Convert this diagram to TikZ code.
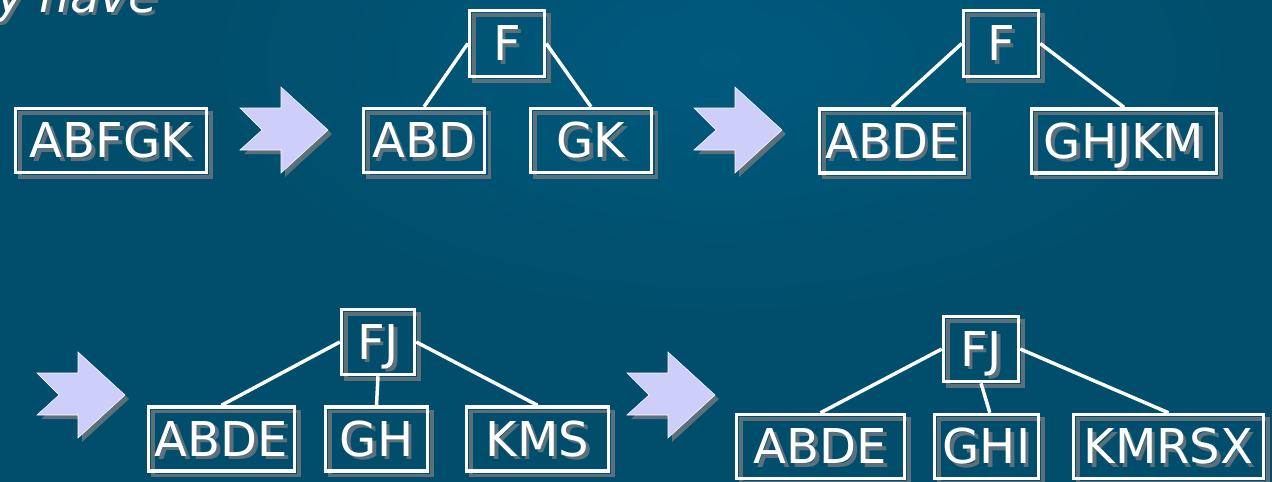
\documentclass[tikz,border=0pt]{standalone}
\usepackage{fontspec}
\setmainfont{DejaVu Sans}[ItalicFont={DejaVu Sans Oblique}]
\usetikzlibrary{shadows}

\definecolor{bgcol}{RGB}{0,78,108}
\definecolor{bglight}{RGB}{0,90,125}
\definecolor{shadowgray}{RGB}{92,112,124}
\definecolor{arrowfill}{RGB}{206,206,250}

% text with a grey drop shadow
\newcommand{\shd}[1]{\rlap{\kern2.5pt\raisebox{-2.5pt}{\textcolor{shadowgray}{#1}}}#1}

\tikzset{
  pics/fatarrow/.style={code={
    \fill[shadowgray, shift={(4,4)}] (-88,-22) -- (-47,-22) -- (-47,-43) -- (0,0) -- (-47,43) -- (-47,20) -- (-88,20) -- (-66,0) -- cycle;
    \filldraw[fill=arrowfill, draw=white, line width=0.4pt] (-88,-22) -- (-47,-22) -- (-47,-43) -- (0,0) -- (-47,43) -- (-47,20) -- (-88,20) -- (-66,0) -- cycle;
  }}
}

\begin{document}
\begin{tikzpicture}[x=0.75pt, y=-0.75pt,
  box/.style={draw=white, line width=2.6pt, inner sep=0pt, text=white,
    font=\fontsize{36}{40}\selectfont, text height=26.2pt, text depth=0pt, minimum height=48pt,
    drop shadow={shadow xshift=3.5pt, shadow yshift=-3.5pt, fill=none, draw=shadowgray, line width=2.6pt, opacity=1}},
  link/.style={draw=white, line width=2.6pt}]
  \useasboundingbox (0,0) rectangle (1272,482);
  \fill[bgcol] (0,0) rectangle (1272,482);
  \shade[inner color=bglight, outer color=bgcol] (720,60) ellipse (520 and 260);

  \node[anchor=base west, inner sep=0pt, text=white, font=\fontsize{36}{40}\selectfont\itshape] (caption) at (-4,12.5) {\shd{y have}};

  % first split
  \node[box, minimum width=143.25pt] (abfgk) at (111,140.5) {\shd{ABFGK}};
  \pic at (328,130) {fatarrow};
  \node[box, minimum width=56.25pt, minimum height=49.5pt] (f1) at (507,43.5) {\shd{F}};
  \node[box, minimum width=91pt] (abd) at (424,140.5) {\shd{ABD}};
  \node[box, minimum width=91pt] (gk) at (591,140.5) {\shd{GK}};
  \draw[link] (f1.west) -- (abd.north);
  \draw[link] (f1.east) -- (gk.north);

  \pic at (782,130) {fatarrow};
  \node[box, minimum width=56.25pt, minimum height=49.5pt] (f2) at (1001,43.5) {\shd{F}};
  \node[box, minimum width=108.75pt] (abde2) at (892,141) {\shd{ABDE}};
  \node[box, minimum width=138.75pt] (ghjkm) at (1124,141) {\shd{GHJKM}};
  \draw[link] (f2.west) -- (abde2.north);
  \draw[link] (f2.east) -- (ghjkm.north);

  % second split
  \pic at (125,395) {fatarrow};
  \node[box, minimum width=54.75pt, minimum height=48.75pt] (fj1) at (378,342) {\shd{FJ}};
  \node[box, minimum width=109.5pt] (abde3) at (221.5,439) {\shd{ABDE}};
  \node[box, minimum width=76.5pt] (gh) at (376.5,439) {\shd{GH}};
  \node[box, minimum width=106.5pt] (kms) at (537.5,439) {\shd{KMS}};
  \draw[link] (fj1.west) -- (abde3.north);
  \draw[link] (fj1.south) -- (gh.north);
  \draw[link] (fj1.east) -- (kms.north);

  \pic at (715,395) {fatarrow};
  \node[box, minimum width=56.25pt, minimum height=48.75pt] (fj2) at (981,349) {\shd{FJ}};
  \node[box, minimum width=126pt] (abde4) at (820.5,446.5) {\shd{ABDE}};
  \node[box, minimum width=78pt] (ghi) at (986.5,446.5) {\shd{GHI}};
  \node[box, minimum width=142.5pt] (kmrsx) at (1168.5,446.5) {\shd{KMRSX}};
  \draw[link] (fj2.west) -- (abde4.north);
  \draw[link] (fj2.south) -- ([xshift=2.5pt]ghi.north);
  \draw[link] (fj2.east) -- (kmrsx.north);
\end{tikzpicture}
\end{document}
